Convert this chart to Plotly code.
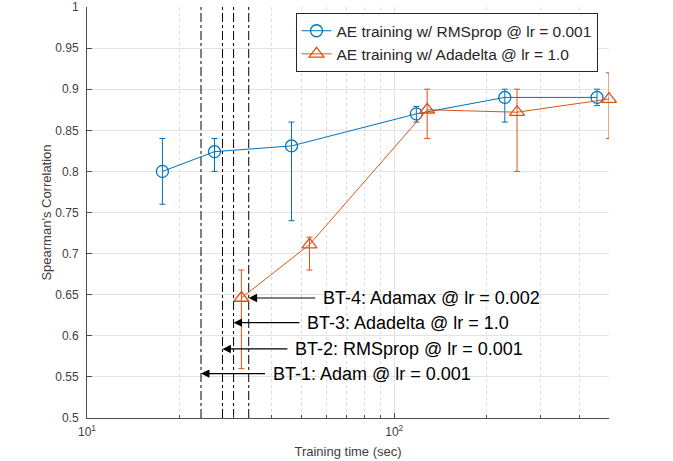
import numpy as np
import plotly.graph_objects as go

# datos
# AE training w/ RMSprop @ lr = 0.001
rms_t = [17.6, 26.0, 46.3, 118, 229, 457]
rms_corr = [0.800, 0.824, 0.831, 0.870, 0.890, 0.890]
rms_hi = [0.840, 0.840, 0.860, 0.879, 0.900, 0.900]
rms_lo = [0.760, 0.800, 0.740, 0.860, 0.860, 0.880]

# AE training w/ Adadelta @ lr = 1.0
ada_t = [31.8, 53.0, 128, 251, 500]
ada_corr = [0.646, 0.711, 0.875, 0.872, 0.888]
ada_hi = [0.680, 0.720, 0.900, 0.900, 0.920]
ada_lo = [0.560, 0.680, 0.840, 0.800, 0.840]

# tiempos de los baselines (lineas verticales)
bt_times = [23.5, 27.6, 30.0, 33.6]
bt_labels = ['BT-1: Adam @ lr = 0.001', 'BT-2: RMSprop @ lr = 0.001',
             'BT-3: Adadelta @ lr = 1.0', 'BT-4: Adamax @ lr = 0.002']
bt_arrow_y = [0.554, 0.584, 0.616, 0.646]
bt_tail_t = [38.4, 45.4, 49.7, 55.9]

x_lim = [10, 500]
y_lim = [0.5, 1.0]

minor_vals = [20, 30, 40, 50, 60, 70, 80, 90, 200, 300, 400, 500]

azul = '#0072BD'
naranja = '#D95319'
fuente = 'Liberation Sans, Arial, sans-serif'

fig = go.Figure()

# lineas verticales dash-dot
for t in bt_times:
    fig.add_trace(go.Scatter(x=[t, t], y=y_lim, mode='lines', showlegend=False,
                             line=dict(color='black', width=1, dash='dashdot'),
                             hoverinfo='skip'))

fig.add_trace(go.Scatter(
    x=rms_t, y=rms_corr, mode='lines+markers', name='AE training w/ RMSprop @ lr = 0.001',
    line=dict(color=azul, width=1),
    marker=dict(symbol='circle-open', size=12, color=azul, line=dict(width=1.3)),
    error_y=dict(type='data', symmetric=False,
                 array=np.array(rms_hi) - np.array(rms_corr),
                 arrayminus=np.array(rms_corr) - np.array(rms_lo),
                 color=azul, thickness=1, width=3),
    cliponaxis=False))

fig.add_trace(go.Scatter(
    x=ada_t, y=ada_corr, mode='lines+markers', name='AE training w/ Adadelta @ lr = 1.0',
    line=dict(color=naranja, width=1),
    marker=dict(symbol='triangle-up-open', size=13, color=naranja, line=dict(width=1.3)),
    error_y=dict(type='data', symmetric=False,
                 array=np.array(ada_hi) - np.array(ada_corr),
                 arrayminus=np.array(ada_corr) - np.array(ada_lo),
                 color=naranja, thickness=1, width=3),
    cliponaxis=False))

# flechas y textos
for t, lab, yy, tail in zip(bt_times, bt_labels, bt_arrow_y, bt_tail_t):
    fig.add_annotation(x=np.log10(t), y=yy, ax=np.log10(tail), ay=yy,
                       xref='x', yref='y', axref='x', ayref='y', text='',
                       showarrow=True, arrowhead=2, arrowsize=1.4, arrowwidth=1.2,
                       arrowcolor='black', standoff=0)
    fig.add_annotation(x=np.log10(tail), y=yy, xref='x', yref='y', text=lab,
                       showarrow=False, xanchor='left', yanchor='middle', xshift=4,
                       font=dict(family=fuente, size=18, color='black'))

fig.update_layout(
    width=673, height=461,
    margin=dict(l=87, r=64, t=7, b=43),
    paper_bgcolor='white', plot_bgcolor='white',
    font=dict(family=fuente, size=12, color='#404040'),
    legend=dict(x=0.978, y=0.985, xanchor='right', yanchor='top',
                bordercolor='#262626', borderwidth=1, bgcolor='white',
                font=dict(size=15.5, color='#262626'), tracegroupgap=0),
)
fig.update_xaxes(type='log', range=[np.log10(x_lim[0]), np.log10(x_lim[1])],
                 tickvals=[10, 100], ticktext=['10<sup>1</sup>', '10<sup>2</sup>'],
                 ticks='inside', ticklen=5, tickcolor='#4d4d4d', automargin=False,
                 ticklabelstandoff=3,
                 showline=True, linecolor='#4d4d4d', linewidth=1, mirror=False,
                 showgrid=True, gridcolor='#e3e3e3', zeroline=False,
                 minor=dict(tickvals=minor_vals, ticks='inside', ticklen=3, tickcolor='#4d4d4d',
                            showgrid=True, gridcolor='#dcdcdc', griddash='dot'),
                 title=dict(text='Training time (sec)', font=dict(size=13), standoff=8))
fig.update_yaxes(range=y_lim, dtick=0.05, ticks='inside', ticklen=5, tickcolor='#4d4d4d',
                 showline=True, linecolor='#4d4d4d', linewidth=1, mirror=False,
                 ticklabelstandoff=5,
                 showgrid=True, gridcolor='#e3e3e3', zeroline=False, automargin=False,
                 title=dict(text="Spearman's Correlation", font=dict(size=13), standoff=0))

# quitar el margen de 8px del body para que la figura quede en (0, 0)
fig.write_html('out.html', config={'displayModeBar': False},
               post_script="document.body.style.margin = '0px';")
